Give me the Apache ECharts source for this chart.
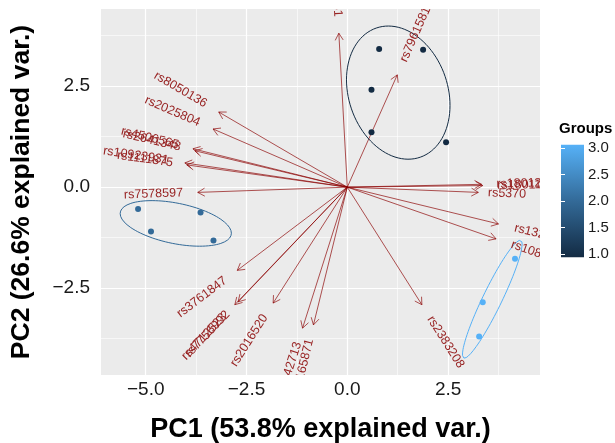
<!DOCTYPE html>
<html><head><meta charset="utf-8">
<script src="https://cdn.jsdelivr.net/npm/echarts@6/dist/echarts.min.js"></script>
<style>html,body{margin:0;padding:0;background:#fff}#c{width:615px;height:443px}</style>
</head><body><div id="c"></div>
<script>
// ---- data ----
const pointPC1 = [0.79, 1.88, 0.60, 0.60, 2.45, -5.19, -3.64, -4.87, -3.32, 4.16, 3.36, 3.27];
const pointPC2 = [3.42, 3.40, 2.41, 1.36, 1.11, -0.54, -0.63, -1.10, -1.32, -1.77, -2.85, -3.70];
const pointGroup = [1, 1, 1, 1, 1, 2, 2, 2, 2, 3, 3, 3];
const groupLevels = [1, 2, 3];

const varNames = ['rs10010131', 'rs7961581', 'rs8050136', 'rs2025804', 'rs4506565', 'rs2641348',
  'rs10923931', 'rs1111875', 'rs7578597', 'rs3761847', 'rs4712523', 'rs7756992', 'rs2016520',
  'rs1042713', 'rs2165871', 'rs2383208', 'rs1801282', 'rs1801181', 'rs5370', 'rs13266634', 'rs10811661'];
const varPC1 = [-0.21, 1.24, -3.19, -3.33, -3.83, -3.78, -4.03, -3.98, -3.71, -2.73, -2.79, -2.71, -1.84,
  -1.11, -0.84, 1.85, 3.33, 3.36, 3.25, 3.75, 3.69];
const varPC2 = [3.81, 2.78, 1.86, 1.44, 0.95, 0.90, 0.60, 0.55, -0.13, -2.06, -2.91, -2.84, -2.87,
  -3.49, -3.41, -2.91, 0.07, 0.04, -0.13, -0.91, -1.28];

const xLimits = [-6.11, 4.78];
const yLimits = [-4.65, 4.41];
const xTicks = [-5, -2.5, 0, 2.5];
const yTicks = [-2.5, 0, 2.5];
const xMinor = [-3.75, -1.25, 1.25, 3.75];
const yMinor = [-3.75, -1.25, 1.25, 3.75];
const legendLimits = [1, 3];

// ---- styles ----
const groupColors = {1: '#132B43', 2: '#336A98', 3: '#56B1F7'};
const arrowColor = '#8B0000';
const labelColor = '#982424';
const FONT = 'Liberation Sans';
const labelFontSize = 12.5;

const fmt = v => (Math.abs(v) < 1e-9 ? 0 : v).toFixed(1).replace('-', '\u2212');

const mctx = document.createElement('canvas').getContext('2d');
mctx.font = labelFontSize + 'px "' + FONT + '"';
const textW = s => mctx.measureText(s).width;

// normal data ellipse as in ggbiplot (prob 0.68)
function ellipseFor(g) {
  const xs = [], ys = [];
  pointGroup.forEach((gg, i) => { if (gg === g) { xs.push(pointPC1[i]); ys.push(pointPC2[i]); } });
  const n = xs.length;
  const mx = xs.reduce((a, b) => a + b, 0) / n, my = ys.reduce((a, b) => a + b, 0) / n;
  let sxx = 0, syy = 0, sxy = 0;
  for (let i = 0; i < n; i++) { sxx += (xs[i]-mx)**2; syy += (ys[i]-my)**2; sxy += (xs[i]-mx)*(ys[i]-my); }
  sxx /= (n-1); syy /= (n-1); sxy /= (n-1);
  const a = Math.sqrt(sxx), b = sxy / a, c = Math.sqrt(Math.max(syy - b*b, 0));
  const ed = Math.sqrt(-2 * Math.log(1 - 0.68));
  const out = [];
  for (let k = 0; k <= 100; k++) {
    const t = 2 * Math.PI * k / 100;
    const ct = Math.cos(t), st = Math.sin(t);
    out.push([mx + ed * ct * a, my + ed * (ct * b + st * c)]);
  }
  return out;
}

const varData = varPC1.map((v, i) => [v, varPC2[i]]);

function gridMarkLines() {
  const d = [];
  xTicks.forEach(v => d.push({xAxis: v, lineStyle: {width: 1.2}}));
  xMinor.forEach(v => d.push({xAxis: v, lineStyle: {width: 0.6}}));
  yTicks.forEach(v => d.push({yAxis: v, lineStyle: {width: 1.2}}));
  yMinor.forEach(v => d.push({yAxis: v, lineStyle: {width: 0.6}}));
  return d;
}

function renderArrow(params, api) {
  const o = api.coord([0, 0]);
  const t = api.coord([api.value(0), api.value(1)]);
  const ang = Math.atan2(t[1] - o[1], t[0] - o[0]);
  const ah = 8, aa = Math.PI / 6;
  const p1 = [t[0] - ah * Math.cos(ang - aa), t[1] - ah * Math.sin(ang - aa)];
  const p2 = [t[0] - ah * Math.cos(ang + aa), t[1] - ah * Math.sin(ang + aa)];
  return {type: 'group', children: [
    {type: 'line', shape: {x1: o[0], y1: o[1], x2: t[0], y2: t[1]}, style: {stroke: arrowColor, lineWidth: 0.9, opacity: 0.75}},
    {type: 'polyline', shape: {points: [p1, t, p2]}, style: {stroke: arrowColor, lineWidth: 0.9, fill: null, opacity: 0.75}}
  ]};
}

function renderVarLabel(params, api) {
  const i = params.dataIndex;
  const xv = api.value(0);
  const o = api.coord([0, 0]);
  const t = api.coord([xv, api.value(1)]);
  const dx = t[0] - o[0], dy = t[1] - o[1];
  const len = Math.hypot(dx, dy);
  const name = varNames[i];
  const off = 0.25 * textW(name);
  return {type: 'text', x: t[0] + dx / len * off, y: t[1] + dy / len * off,
    rotation: Math.atan(-dy / dx),
    style: {text: name, x: 0, y: 0, align: xv < 0 ? 'right' : 'left', verticalAlign: 'middle',
      fill: labelColor, fontSize: labelFontSize, fontFamily: FONT}};
}

function renderColorbar(params, api) {
  const top = api.coord([0, legendLimits[1] + 0.06]);
  const bot = api.coord([1, legendLimits[0] - 0.06]);
  return {type: 'rect', shape: {x: top[0], y: top[1], width: bot[0] - top[0], height: bot[1] - top[1]},
    style: {fill: new echarts.graphic.LinearGradient(0, 0, 0, 1, [
      {offset: 0, color: groupColors[3]}, {offset: 0.5, color: groupColors[2]}, {offset: 1, color: groupColors[1]}])}};
}

const series = [
  {type: 'line', xAxisIndex: 0, yAxisIndex: 0, z: 1, silent: true, data: [], animation: false,
    markLine: {z: 1, silent: true, symbol: ['none', 'none'], label: {show: false}, animation: false,
      lineStyle: {color: '#FFFFFF', type: 'solid', width: 1.2}, emphasis: {disabled: true}, data: gridMarkLines()}},
  {type: 'custom', xAxisIndex: 0, yAxisIndex: 0, z: 2, silent: true, renderItem: renderArrow, data: varData, clip: true, animation: false}
];
groupLevels.forEach(g => {
  const d = [];
  pointGroup.forEach((gg, i) => { if (gg === g) d.push([pointPC1[i], pointPC2[i]]); });
  series.push({type: 'scatter', xAxisIndex: 0, yAxisIndex: 0, z: 3, data: d, symbolSize: 6,
    itemStyle: {color: groupColors[g], opacity: 1}, animation: false, silent: true});
  series.push({type: 'line', xAxisIndex: 0, yAxisIndex: 0, z: 3, data: ellipseFor(g), showSymbol: false, symbol: 'none',
    lineStyle: {color: groupColors[g], width: 1}, animation: false, silent: true});
});
series.push({type: 'custom', xAxisIndex: 0, yAxisIndex: 0, z: 4, silent: true, renderItem: renderVarLabel, data: varData, clip: true, animation: false});
series.push({type: 'custom', xAxisIndex: 1, yAxisIndex: 1, z: 2, silent: true, renderItem: renderColorbar, data: [[0, 1]], animation: false});

const chart = echarts.init(document.getElementById('c'), null, {renderer: 'canvas'});
chart.setOption({
  animation: false,
  backgroundColor: '#FFFFFF',
  title: {text: 'Groups', left: 559, top: 121, textStyle: {fontSize: 15, fontWeight: 'bold', color: '#000', fontFamily: FONT}, padding: 0},
  grid: [
    {left: 101, top: 9, width: 439, height: 366, show: true, backgroundColor: '#EBEBEB', borderWidth: 0, containLabel: false, outerBoundsMode: 'none'},
    {left: 561, top: 148, width: 23, height: 106, show: false, containLabel: false, outerBoundsMode: 'none'}
  ],
  xAxis: [
    {gridIndex: 0, type: 'value', min: xLimits[0], max: xLimits[1], splitLine: {show: false}, axisLine: {show: false},
      axisTick: {show: true, customValues: xTicks, length: 4, lineStyle: {color: '#333', width: 1}},
      axisLabel: {customValues: xTicks, formatter: fmt, fontSize: 19, color: '#1a1a1a', margin: 5, fontFamily: FONT},
      name: 'PC1 (53.8% explained var.)', nameLocation: 'middle', nameGap: 41,
      nameTextStyle: {fontSize: 27, fontWeight: 'bold', color: '#000', fontFamily: FONT, verticalAlign: 'top'}},
    {gridIndex: 1, type: 'value', min: 0, max: 1, show: false}
  ],
  yAxis: [
    {gridIndex: 0, type: 'value', min: yLimits[0], max: yLimits[1], splitLine: {show: false}, axisLine: {show: false},
      axisTick: {show: true, customValues: yTicks, length: 4, lineStyle: {color: '#333', width: 1}},
      axisLabel: {customValues: yTicks, formatter: fmt, fontSize: 19, color: '#1a1a1a', margin: 11, fontFamily: FONT},
      name: 'PC2 (26.6% explained var.)', nameLocation: 'middle', nameGap: 66, nameRotate: 90,
      nameTextStyle: {fontSize: 26.5, fontWeight: 'bold', color: '#000', fontFamily: FONT}},
    {gridIndex: 1, type: 'value', min: legendLimits[0], max: legendLimits[1], interval: 0.5, position: 'right', z: 5,
      splitLine: {show: false}, axisLine: {show: false},
      axisTick: {show: true, inside: true, length: 4, lineStyle: {color: '#FFFFFF', width: 1}},
      axisLabel: {show: true, formatter: fmt, fontSize: 15, color: '#1a1a1a', margin: 4, fontFamily: FONT}},
    {gridIndex: 1, type: 'value', min: legendLimits[0], max: legendLimits[1], interval: 0.5, position: 'left', z: 5,
      splitLine: {show: false}, axisLine: {show: false},
      axisTick: {show: true, inside: true, length: 4, lineStyle: {color: '#FFFFFF', width: 1}},
      axisLabel: {show: false}}
  ],
  series
});
</script></body></html>
